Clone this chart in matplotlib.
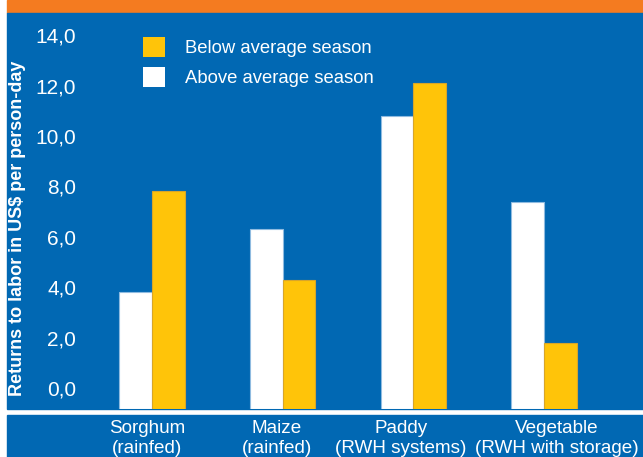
import matplotlib
matplotlib.use("Agg")
import matplotlib.pyplot as plt
import matplotlib.patches as patches
import numpy as np

# Dados
categories = ["Sorghum\n(rainfed)", "Maize\n(rainfed)", "Paddy\n(RWH systems)", "Vegetable\n(RWH with storage)"]
above_avg = [3.8, 6.3, 10.8, 7.4]
below_avg = [7.8, 4.3, 12.1, 1.8]
y_ticks = [0, 2, 4, 6, 8, 10, 12, 14]
legend_labels = ["Below average season", "Above average season"]
y_label = "Returns to labor in US$ per person-day"

BLUE = "#0168b3"
YELLOW = "#ffc409"
ORANGE = "#f47b20"

W, H = 643, 457
plt.rcParams["font.family"] = ["Liberation Sans", "DejaVu Sans"]

fig = plt.figure(figsize=(W / 100, H / 100), dpi=100)
fig.patch.set_facecolor("white")


def px_rect(x0, y0, x1, y1, color):
    # retângulo em pixels (origem no topo)
    r = patches.Rectangle((x0 / W, 1 - y1 / H), (x1 - x0) / W, (y1 - y0) / H,
                          transform=fig.transFigure, color=color, zorder=-5)
    fig.add_artist(r)


px_rect(7, 0, W, 13, ORANGE)
px_rect(7, 13, W, 409, BLUE)
px_rect(7, 415, W, H, BLUE)

# Eixo principal
ax_left, ax_top, ax_bottom = 90, 13, 409
ax = fig.add_axes([ax_left / W, 1 - ax_bottom / H, (W - ax_left) / W, (ax_bottom - ax_top) / H])
ax.set_facecolor("none")
ax.set_zorder(2)
for s in ax.spines.values():
    s.set_visible(False)

unit_px = 25.2
y0 = -(ax_bottom - 388) / unit_px
ax.set_ylim(y0, (388 - ax_top) / unit_px)
group_px = 130.7
ax.set_xlim((ax_left - 152) / group_px, (W - 152) / group_px)

x = np.arange(len(categories))
w = 0.25
ax.bar(x - w / 2, np.array(above_avg) - y0, w, bottom=y0, color="white",
       edgecolor="#8fbbe0", linewidth=0.8, label=legend_labels[1])
ax.bar(x + w / 2, np.array(below_avg) - y0, w, bottom=y0, color=YELLOW,
       edgecolor="#d8a52a", linewidth=0.8, label=legend_labels[0])

ax.set_yticks(y_ticks)
ax.set_yticklabels([f"{v:.1f}".replace(".", ",") for v in y_ticks])
ax.tick_params(axis="y", length=0, pad=10, labelsize=15, labelcolor="white")

# rótulos das categorias (posição um pouco deslocada como no original)
label_px = [147, 277, 401, 557]
ax.set_xticks([(p - 152) / group_px for p in label_px])
ax.set_xticklabels(categories, linespacing=1.22)
ax.tick_params(axis="x", length=0, pad=8, labelsize=13.6, labelcolor="white")

fig.text(17.5 / W, 1 - 228 / H, y_label, rotation=90, ha="center", va="center",
         color="white", fontsize=13, fontweight="bold")

# Legenda
handles = [patches.Patch(facecolor=YELLOW, edgecolor="none"),
           patches.Patch(facecolor="white", edgecolor="none")]
leg = fig.legend(handles, legend_labels, loc="upper left",
                 bbox_to_anchor=(143 / W, 1 - 37 / H), frameon=False,
                 fontsize=13.3, handlelength=1.2, handleheight=1.25,
                 handletextpad=1.1, labelspacing=0.55, borderpad=0, borderaxespad=0)
leg.set_zorder(3)
for t in leg.get_texts():
    t.set_color("white")

fig.savefig("out.png", dpi=100, facecolor=fig.get_facecolor())
